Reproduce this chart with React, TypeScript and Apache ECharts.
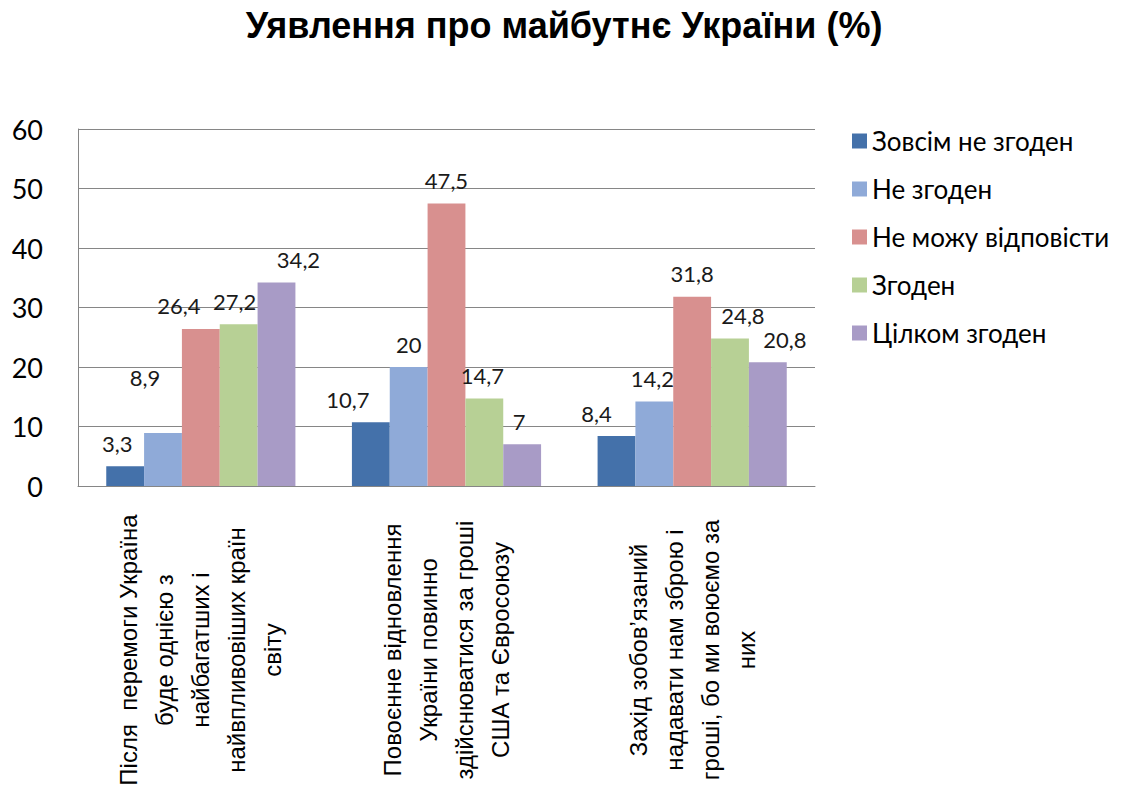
import React, { useEffect, useRef } from "react";
import * as echarts from "echarts";

const TITLE = "Уявлення про майбутнє України (%)";

const categories = [
  "Після  перемоги Україна\nбуде однією з\nнайбагатших і\nнайвпливовіших країн\nсвіту",
  "Повоєнне відновлення\nУкраїни повинно\nздійснюватися за гроші\nСША та Євросоюзу",
  "Захід зобов’язаний\nнадавати нам зброю і\nгроші, бо ми воюємо за\nних",
];

const seriesNames = [
  "Зовсім не згоден",
  "Не згоден",
  "Не можу відповісти",
  "Згоден",
  "Цілком згоден",
];

const stronglyDisagree = [3.3, 10.7, 8.4];
const disagree = [8.9, 20, 14.2];
const cannotAnswer = [26.4, 47.5, 31.8];
const agree = [27.2, 14.7, 24.8];
const stronglyAgree = [34.2, 7, 20.8];

const seriesValues = [stronglyDisagree, disagree, cannotAnswer, agree, stronglyAgree];

const yTicks = { min: 0, max: 60, interval: 10 };

const colors = ["#4471AA", "#8FAAD8", "#D8908F", "#B7D095", "#A89BC6"];

// small label nudges (dx, dy) per series / category, to mimic the reference's label placement
const labelNudge: number[][][] = [
  [[-8, 0], [-23, 0], [-20, 0]],
  [[-18, -33], [0, 0], [-2, 0]],
  [[-22, 0], [0, 0], [0, 0]],
  [[-4, 0], [-2, 0], [13, 0]],
  [[22, 0], [-3, 0], [17, 0]],
];

const fmt = (v: number) => String(v).replace(".", ",");

export default function App() {
  const ref = useRef<HTMLDivElement>(null);
  useEffect(() => {
    if (!ref.current) return;
    const chart = echarts.init(ref.current, null, { renderer: "svg" });
    const series = seriesNames.map((name, si) => ({
      name,
      type: "bar",
      barGap: "0%",
      barCategoryGap: "23%",
      itemStyle: { color: colors[si] },
      data: seriesValues[si].map((v, ci) => ({
        value: v,
        label: { offset: labelNudge[si][ci] },
      })),
      label: {
        show: true,
        position: "top",
        distance: 12,
        fontFamily: "Lato",
        fontSize: 22,
        color: "#1a1a1a",
        formatter: (p: any) => fmt(p.value),
      },
    }));
    chart.setOption({
      animation: false,
      backgroundColor: "#ffffff",
      title: {
        text: TITLE,
        left: "center",
        top: 2,
        textStyle: {
          fontFamily: "Liberation Sans",
          fontWeight: "bold",
          fontSize: 36,
          color: "#000000",
        },
      },
      legend: {
        orient: "vertical",
        left: 847,
        top: 122,
        itemWidth: 15,
        itemHeight: 15,
        itemGap: 20,
        icon: "rect",
        data: seriesNames,
        textStyle: {
          fontFamily: "Lato",
          fontSize: 26,
          lineHeight: 28,
          color: "#000000",
        },
      },
      grid: {
        left: 78,
        right: 313,
        top: 129,
        bottom: 306,
        containLabel: false,
        outerBoundsMode: "none",
      },
      xAxis: {
        type: "category",
        data: categories,
        axisTick: { show: false },
        axisLine: { lineStyle: { color: "#868686", width: 1 } },
        axisLabel: {
          interval: 0,
          rotate: 90,
          align: "center",
          verticalAlign: "middle",
          margin: 4,
          padding: [0, 320, 0, 0],
          fontFamily: "Liberation Sans",
          fontSize: 24,
          lineHeight: 36,
          color: "#000000",
        },
      },
      yAxis: {
        type: "value",
        min: yTicks.min,
        max: yTicks.max,
        interval: yTicks.interval,
        axisLine: { show: true, lineStyle: { color: "#868686", width: 1 } },
        axisTick: { show: false },
        splitLine: { lineStyle: { color: "#868686", width: 1 } },
        axisLabel: {
          fontFamily: "Lato",
          fontSize: 27,
          color: "#000000",
          margin: 35,
        },
      },
      series,
    });
    return () => chart.dispose();
  }, []);
  return (
    <div
      ref={ref}
      style={{ position: "absolute", left: 0, top: 0, width: 1128, height: 792 }}
    />
  );
}
